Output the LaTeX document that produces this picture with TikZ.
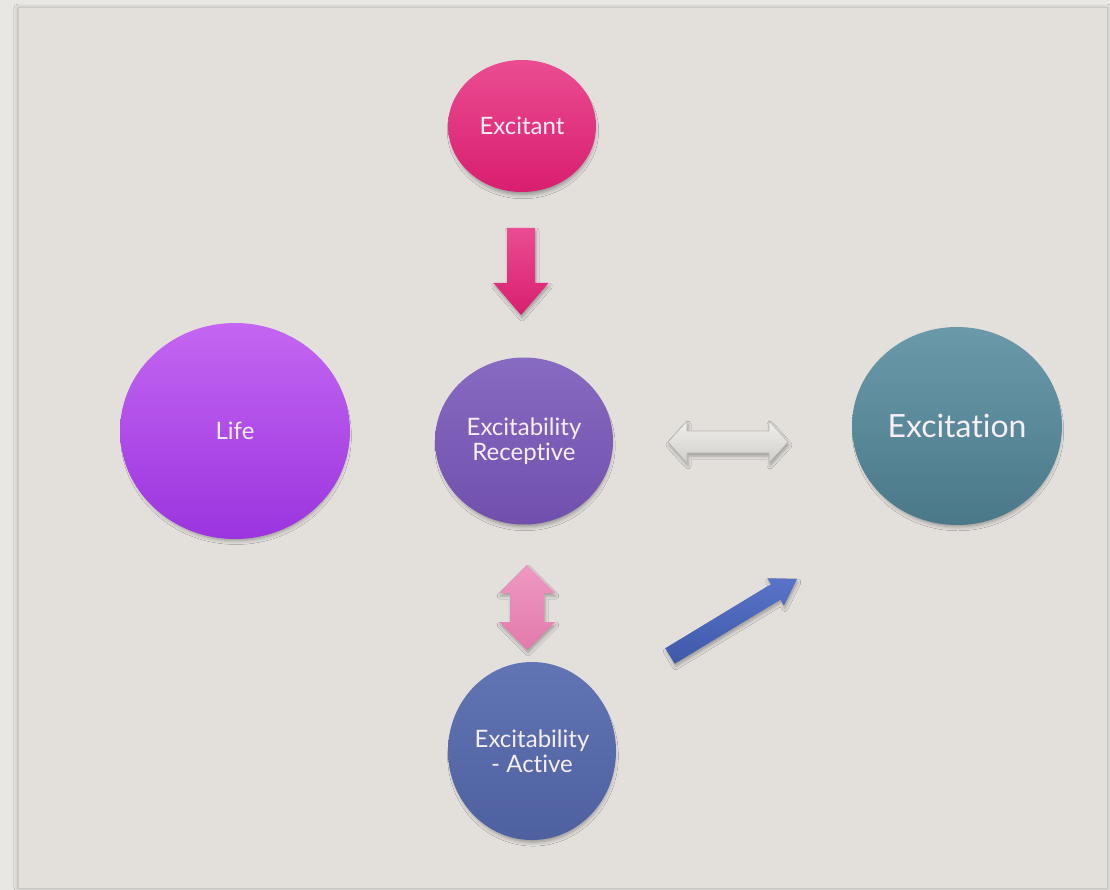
\documentclass[tikz,border=0pt]{standalone}
\usepackage{fontspec}
\setmainfont{Lato}[Ligatures={NoCommon,NoRequired,NoContextual}]
\usetikzlibrary{shapes.geometric,calc,shadows.blur}

\definecolor{outerbg}{HTML}{E9E7E3}
\definecolor{panelbg}{HTML}{E3E0DC}
\definecolor{panelline}{HTML}{CBC8C4}
\definecolor{txt}{HTML}{F7EEF6}
\definecolor{exA}{HTML}{EA4C92}
\definecolor{exB}{HTML}{D91E6F}
\definecolor{lifeA}{HTML}{C466F2}
\definecolor{lifeB}{HTML}{9B34DF}
\definecolor{recA}{HTML}{876AC2}
\definecolor{recB}{HTML}{7050AC}
\definecolor{excA}{HTML}{6A9AAA}
\definecolor{excB}{HTML}{4A7888}
\definecolor{actA}{HTML}{6174B4}
\definecolor{actB}{HTML}{4E60A0}
\definecolor{pinkA}{HTML}{EE98C2}
\definecolor{pinkB}{HTML}{E27AAC}
\definecolor{greyA}{HTML}{F2F0ED}
\definecolor{greyB}{HTML}{D0CECA}
\definecolor{greyL}{HTML}{B9B7B3}
\definecolor{blueA}{HTML}{5874C8}
\definecolor{blueB}{HTML}{3F58AA}

\tikzset{
  bubble/.style={ellipse, inner sep=0pt, text=txt, align=center,
    font=\fontsize{24}{25}\selectfont,
    blur shadow={shadow xshift=1pt, shadow yshift=-5pt, shadow scale=0.97,
      shadow blur radius=4pt, shadow opacity=35}},
  blockarr/.style={blur shadow={shadow xshift=1pt, shadow yshift=-3pt, shadow blur radius=3pt, shadow opacity=30}},
}

% single block arrow: #1 style, #2 start, #3 end, #4 half shaft, #5 half head, #6 head length
\newcommand{\myblockarrow}[6]{%
  \coordinate (#2#3b) at ($(#3)!#6!(#2)$);
  \path[#1] ($(#2)!#4!90:(#3)$) -- ($(#2#3b)!#4!-90:(#2)$) -- ($(#2#3b)!#5!-90:(#2)$)
    -- (#3) -- ($(#2#3b)!#5!90:(#2)$) -- ($(#2#3b)!#4!90:(#2)$)
    -- ($(#2)!#4!-90:(#3)$) -- cycle;
}
% double block arrow
\newcommand{\mydoublearrow}[6]{%
  \coordinate (#2#3a) at ($(#2)!#6!(#3)$);
  \coordinate (#2#3b) at ($(#3)!#6!(#2)$);
  \path[#1] (#2) -- ($(#2#3a)!#5!90:(#3)$) -- ($(#2#3a)!#4!90:(#3)$)
    -- ($(#2#3b)!#4!-90:(#2)$) -- ($(#2#3b)!#5!-90:(#2)$) -- (#3)
    -- ($(#2#3b)!#5!90:(#2)$) -- ($(#2#3b)!#4!90:(#2)$)
    -- ($(#2#3a)!#4!-90:(#3)$) -- ($(#2#3a)!#5!-90:(#3)$) -- cycle;
}

\begin{document}
\begin{tikzpicture}[x=1pt,y=-1pt]
\useasboundingbox (0,0) rectangle (1110,890);
\fill[outerbg] (0,0) rectangle (1110,890);
\path[fill=panelbg, draw=panelline, line width=1pt,
  blur shadow={shadow xshift=0pt, shadow yshift=0pt, shadow blur radius=4pt, shadow opacity=30}]
  (18,8) rectangle (1107,888);

% nodes
\node[bubble, minimum width=148pt, minimum height=132pt, top color=exA, bottom color=exB]
  (excitant) at (522,126) {Excitant};
\node[bubble, minimum width=230pt, minimum height=216pt, top color=lifeA, bottom color=lifeB]
  (life) at (235,431) {Life};
\node[bubble, minimum width=178pt, minimum height=167pt, top color=recA, bottom color=recB]
  (receptive) at (524,441) {Excitability\\Receptive};
\node[bubble, minimum width=210pt, minimum height=198pt, top color=excA, bottom color=excB,
  font=\fontsize{32}{34}\selectfont]
  (excitation) at (957,426) {Excitation};
\node[bubble, minimum width=168pt, minimum height=178pt, top color=actA, bottom color=actB]
  (active) at (532,751) {Excitability\\- Active};

% arrow end points
\coordinate (dA) at (521,228);
\coordinate (dB) at (521,315);
\coordinate (gA) at (668,442);
\coordinate (gB) at (788,442);
\coordinate (pA) at (527,565);
\coordinate (pB) at (527,650);
\coordinate (bA) at (670,656);
\coordinate (bB) at (797,579);

\myblockarrow{blockarr, top color=exA, bottom color=exB}{dA}{dB}{14pt}{27.5pt}{32pt}
\mydoublearrow{blockarr, top color=greyA, bottom color=greyB, draw=greyL, line width=0.6pt}{gA}{gB}{11pt}{21pt}{19pt}
\mydoublearrow{blockarr, top color=pinkA, bottom color=pinkB}{pA}{pB}{17pt}{28pt}{28pt}
\myblockarrow{blockarr, top color=blueA, bottom color=blueB}{bA}{bB}{9pt}{16pt}{25pt}
\end{tikzpicture}
\end{document}
